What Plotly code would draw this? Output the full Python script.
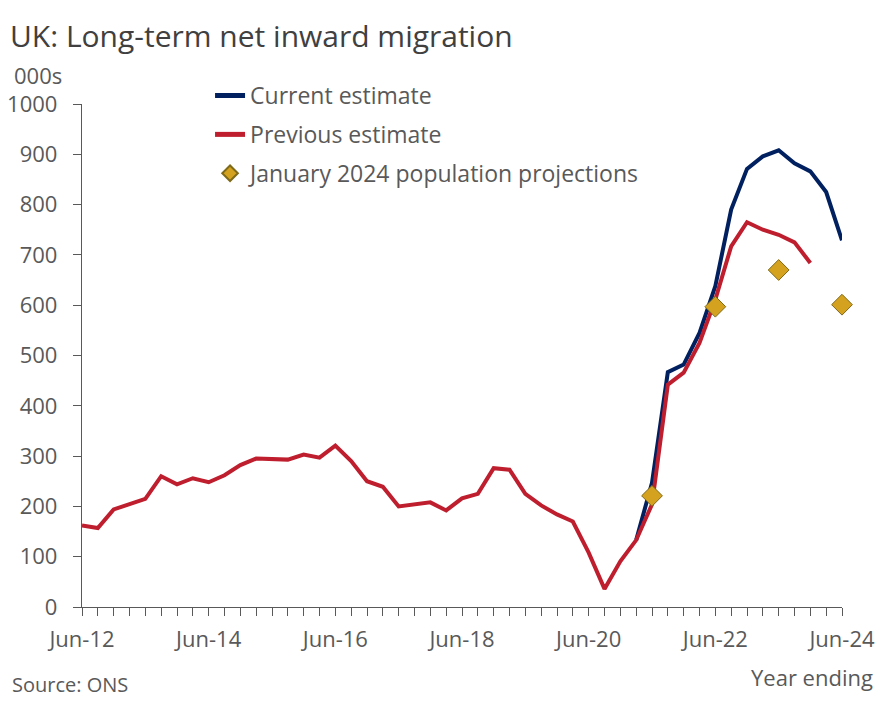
import plotly.graph_objects as go

# quarterly categories, year ending
quarters = [
    "Jun-12", "Sep-12", "Dec-12", "Mar-13", "Jun-13", "Sep-13", "Dec-13",
    "Mar-14", "Jun-14", "Sep-14", "Dec-14", "Mar-15", "Jun-15", "Sep-15",
    "Dec-15", "Mar-16", "Jun-16", "Sep-16", "Dec-16", "Mar-17", "Jun-17",
    "Sep-17", "Dec-17", "Mar-18", "Jun-18", "Sep-18", "Dec-18", "Mar-19",
    "Jun-19", "Sep-19", "Dec-19", "Mar-20", "Jun-20", "Sep-20", "Dec-20",
    "Mar-21", "Jun-21", "Sep-21", "Dec-21", "Mar-22", "Jun-22", "Sep-22",
    "Dec-22", "Mar-23", "Jun-23", "Sep-23", "Dec-23", "Mar-24", "Jun-24",
]
tick_labels = ["Jun-12", "Jun-14", "Jun-16", "Jun-18", "Jun-20", "Jun-22", "Jun-24"]

# previous estimate, 000s (Jun-12 to Dec-23)
previous = [
    162, 157, 194, 205, 215, 260, 244, 256, 248, 262, 282, 295, 295, 293,
    303, 297, 321, 290, 250, 239, 200, 204, 208, 192, 216, 225, 276, 273,
    225, 202, 184, 170, 108, 36, 91, 133, 204, 442, 466, 525, 611, 717,
    765, 750, 740, 725, 684,
]

# current estimate, 000s (Mar-21 to Jun-24)
current_quarters = quarters[35:]
current = [133, 247, 467, 482, 545, 638, 790, 871, 896, 908, 882, 866, 825, 729]

# January 2024 population projections
proj_quarters = ["Jun-21", "Jun-22", "Jun-23", "Jun-24"]
projections = [221, 597, 670, 601]

FONT = "Open Sans"
TEXT = "#595959"
AXIS = "#595959"

# page body has an 8px margin, so the figure is 8px smaller than the window
W, H = 877, 699
PLOT_W, PLOT_H = 759.7, 503.5

fig = go.Figure()

fig.add_trace(go.Scatter(
    x=current_quarters, y=current, mode="lines",
    line=dict(color="#002060", width=4), cliponaxis=False,
    name="Current estimate", legendrank=1, legendgroup="a",
))
fig.add_trace(go.Scatter(
    x=quarters[:len(previous)], y=previous, mode="lines",
    line=dict(color="#BE1E2D", width=4), cliponaxis=False,
    name="Previous estimate", legendrank=2, legendgroup="b",
))
fig.add_trace(go.Scatter(
    x=proj_quarters, y=projections, mode="markers",
    marker=dict(symbol="diamond", size=16, color="#D4A21E",
                line=dict(color="#7F6A1A", width=1)),
    cliponaxis=False,
    name="January 2024 population projections", legendrank=3, legendgroup="c",
))

fig.update_layout(
    width=W, height=H,
    margin=dict(l=74, r=W - 74 - PLOT_W, t=96, b=H - 96 - PLOT_H),
    paper_bgcolor="white", plot_bgcolor="white",
    font=dict(family=FONT, size=22, color=TEXT),
    title=dict(text="UK: Long-term net inward migration",
               x=2 / W, xanchor="left", y=1 - 28 / H, yanchor="middle",
               font=dict(size=30, color="#404040")),
    showlegend=True,
    legend=dict(x=128 / PLOT_W, y=1 + 30 / PLOT_H, xanchor="left", yanchor="top",
                bgcolor="rgba(0,0,0,0)", font=dict(size=23, color=TEXT),
                tracegroupgap=6, itemwidth=30, itemsizing="constant"),
)

fig.update_xaxes(
    type="category", range=[0, len(quarters) - 1],
    categoryorder="array", categoryarray=quarters,
    tickmode="array", tickvals=quarters,
    ticktext=[q if q in tick_labels else "" for q in quarters],
    ticks="outside", ticklen=8, tickcolor=AXIS, tickwidth=1.3,
    showline=True, linecolor=AXIS, linewidth=1.3,
    showgrid=False, zeroline=False, automargin=False,
    tickfont=dict(size=22, color=TEXT), tickangle=0, ticklabelstandoff=4,
)
fig.update_yaxes(
    range=[0, 1000], dtick=100,
    ticks="outside", ticklen=8, tickcolor=AXIS, tickwidth=1.3,
    showline=True, linecolor=AXIS, linewidth=1.3,
    showgrid=False, zeroline=False, automargin=False,
    tickfont=dict(size=22, color=TEXT), ticklabelstandoff=11,
)

fig.add_annotation(text="000s", xref="paper", yref="paper",
                   x=-70 / PLOT_W, y=1 + 29 / PLOT_H, xanchor="left", yanchor="middle",
                   showarrow=False, font=dict(size=22, color=TEXT))
fig.add_annotation(text="Source: ONS", xref="paper", yref="paper",
                   x=-72 / PLOT_W, y=-78 / PLOT_H, xanchor="left", yanchor="middle",
                   showarrow=False, font=dict(size=20, color=TEXT))
fig.add_annotation(text="Year ending", xref="paper", yref="paper",
                   x=1 + 33 / PLOT_W, y=-70 / PLOT_H, xanchor="right", yanchor="middle",
                   showarrow=False, font=dict(size=22, color=TEXT))

fig.write_html("out.html")
